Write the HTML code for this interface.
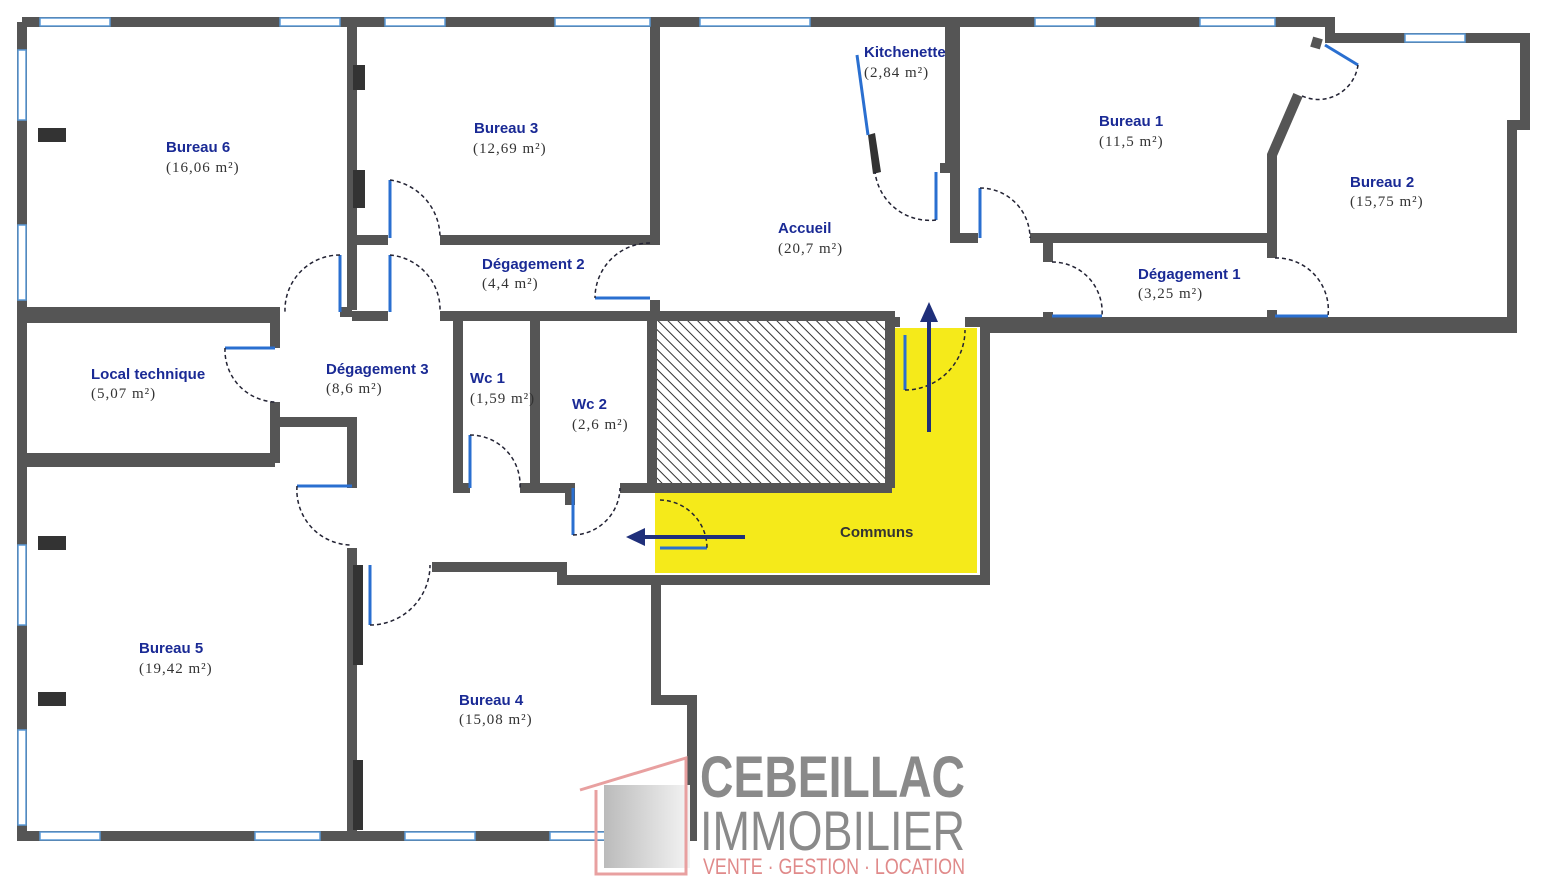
<!DOCTYPE html>
<html><head><meta charset="utf-8"><style>
html,body{margin:0;padding:0;background:#fff;width:1542px;height:876px;overflow:hidden}
svg{display:block}
.l{font-family:"Liberation Sans Narrow","Liberation Sans",sans-serif;font-weight:bold;fill:#1a2a95;font-size:15px}
.a{font-family:"Liberation Serif",serif;fill:#333;font-size:15px;letter-spacing:1px}
</style></head><body>
<svg width="1542" height="876" viewBox="0 0 1542 876" xmlns="http://www.w3.org/2000/svg">
<defs>
<pattern id="h" width="7" height="7" patternUnits="userSpaceOnUse" patternTransform="rotate(-45)">
<rect width="7" height="7" fill="#fff"/><line x1="0" y1="0" x2="0" y2="7" stroke="#333" stroke-width="2"/>
</pattern>
<linearGradient id="g" x1="0" y1="0" x2="1" y2="0"><stop offset="0" stop-color="#bbb"/><stop offset="1" stop-color="#f4f4f4"/></linearGradient>
</defs>
<!-- yellow communs -->
<polygon points="655,488 892,488 892,328 977,328 977,573 655,573" fill="#f5ea1a"/>
<rect x="657" y="320" width="232" height="164" fill="url(#h)"/>
<g fill="none" stroke="#555" stroke-width="10" stroke-linejoin="miter">
<!-- outer -->
<polyline points="22,22 1330,22 1330,38 1525,38 1525,125 1512,125 1512,328 985,328 985,580 656,580 656,700 692,700 692,836 22,836 22,22"/>
<!-- bureau6/3 divider -->
<line x1="352" y1="22" x2="352" y2="310"/>
<polyline points="22,312 280,312"/><line x1="340" y1="312" x2="352" y2="312"/>
<polyline points="352,240 388,240"/><polyline points="440,240 655,240 655,22"/>
<line x1="655" y1="300" x2="655" y2="320"/>
<polyline points="352,316 388,316"/><polyline points="440,316 890,316 890,488"/>
<!-- local tech -->
<polyline points="22,318 275,318 275,348"/><polyline points="275,402 275,458 22,458"/>
<polyline points="278,422 352,422 352,488"/>
<line x1="22" y1="462" x2="275" y2="462"/>
<line x1="352" y1="548" x2="352" y2="836"/>
<!-- WCs -->
<polyline points="458,316 458,488 470,488"/><polyline points="520,488 535,488 535,316"/>
<polyline points="535,488 570,488 570,505"/><polyline points="620,488 652,488 652,316"/>
<polyline points="655,488 892,488"/>
<!-- bureau 4 top -->
<polyline points="432,567 562,567 562,580 656,580"/>
<!-- kitchen / bureau1 -->
<line x1="950" y1="22" x2="950" y2="165"/><line x1="940" y1="168" x2="950" y2="168"/>
<polyline points="955,22 955,238 978,238"/><polyline points="1030,238 1272,238 1272,155 1298,95"/>
<line x1="1318" y1="38" x2="1315" y2="48"/>
<polyline points="1048,240 1048,262"/><line x1="1048" y1="312" x2="1048" y2="322"/>
<line x1="1272" y1="238" x2="1272" y2="258"/><line x1="1272" y1="310" x2="1272" y2="322"/>
<line x1="965" y1="322" x2="1512" y2="322"/>
<line x1="890" y1="322" x2="900" y2="322"/>
</g>
<!-- windows (white gaps on outer walls) -->
<g fill="#fff" stroke="#5a9ad8" stroke-width="1.5">
<rect x="40" y="18" width="70" height="8"/><rect x="280" y="18" width="60" height="8"/>
<rect x="385" y="18" width="60" height="8"/><rect x="555" y="18" width="95" height="8"/>
<rect x="700" y="18" width="110" height="8"/><rect x="1035" y="18" width="60" height="8"/>
<rect x="1200" y="18" width="75" height="8"/><rect x="1405" y="34" width="60" height="8"/>
<rect x="18" y="50" width="8" height="70"/><rect x="18" y="225" width="8" height="75"/>
<rect x="18" y="545" width="8" height="80"/><rect x="18" y="730" width="8" height="95"/>
<rect x="40" y="832" width="60" height="8"/><rect x="255" y="832" width="65" height="8"/>
<rect x="405" y="832" width="70" height="8"/><rect x="550" y="832" width="65" height="8"/>
</g>
<!-- pillars -->
<g fill="#333"><rect x="38" y="128" width="28" height="14"/><rect x="38" y="536" width="28" height="14"/><rect x="38" y="692" width="28" height="14"/>
<rect x="353" y="65" width="12" height="25"/><rect x="353" y="170" width="12" height="38"/><rect x="353" y="565" width="10" height="100"/><rect x="353" y="760" width="10" height="70"/>
<polygon points="868,135 875,133 881,172 873,174"/></g>
<!-- door leaves and arcs -->
<g stroke="#2a6fd0" stroke-width="3" fill="none">
<line x1="390" y1="180" x2="390" y2="238"/><line x1="390" y1="255" x2="390" y2="312"/><line x1="340" y1="255" x2="340" y2="312"/>
<line x1="595" y1="298" x2="650" y2="298"/><line x1="225" y1="348" x2="275" y2="348"/><line x1="297" y1="486" x2="352" y2="486"/>
<line x1="470" y1="435" x2="470" y2="488"/><line x1="573" y1="488" x2="573" y2="535"/><line x1="370" y1="565" x2="370" y2="625"/>
<line x1="980" y1="188" x2="980" y2="238"/><line x1="936" y1="172" x2="936" y2="220"/><line x1="1052" y1="316" x2="1102" y2="316"/><line x1="1275" y1="316" x2="1328" y2="316"/>
<line x1="1325" y1="45" x2="1358" y2="65"/><line x1="857" y1="55" x2="868" y2="135"/>
<line x1="905" y1="335" x2="905" y2="390"/><line x1="660" y1="548" x2="707" y2="548"/>
</g>
<g stroke="#223" stroke-width="1.5" fill="none" stroke-dasharray="4,3">
<path d="M390,180 A58,58 0 0 1 440,238"/><path d="M390,255 A55,55 0 0 1 440,312"/><path d="M340,255 A55,55 0 0 0 285,312"/>
<path d="M650,243 A55,55 0 0 0 595,298"/><path d="M225,348 A52,52 0 0 0 275,402"/><path d="M297,486 A55,55 0 0 0 352,545"/>
<path d="M470,435 A50,50 0 0 1 520,488"/><path d="M573,535 A48,48 0 0 0 620,488"/><path d="M370,625 A60,60 0 0 0 430,565"/>
<path d="M980,188 A50,50 0 0 1 1030,238"/><path d="M936,220 A55,55 0 0 1 875,172"/><path d="M1052,262 A50,50 0 0 1 1102,316"/><path d="M1275,258 A52,52 0 0 1 1328,316"/>
<path d="M1358,65 A40,40 0 0 1 1300,95"/><path d="M905,390 A60,60 0 0 0 965,330"/><path d="M660,500 A48,48 0 0 1 707,548"/>
</g>
<!-- arrows -->
<g stroke="#1f2f7a" stroke-width="4" fill="#1f2f7a">
<line x1="929" y1="432" x2="929" y2="318"/><polygon points="920,322 938,322 929,302" stroke="none"/>
<line x1="745" y1="537" x2="640" y2="537"/><polygon points="645,528 645,546 626,537" stroke="none"/>
</g>
<!-- labels -->
<g class="l">
<text x="166" y="152">Bureau 6</text><text x="474" y="133">Bureau 3</text><text x="482" y="269">Dégagement 2</text>
<text x="778" y="233">Accueil</text><text x="864" y="57">Kitchenette</text><text x="1099" y="126">Bureau 1</text>
<text x="1350" y="187">Bureau 2</text><text x="1138" y="279">Dégagement 1</text><text x="91" y="379">Local technique</text>
<text x="326" y="374">Dégagement 3</text><text x="470" y="383">Wc 1</text><text x="572" y="409">Wc 2</text>
<text x="840" y="537" style="fill:#333">Communs</text><text x="139" y="653">Bureau 5</text><text x="459" y="705">Bureau 4</text>
</g>
<g class="a">
<text x="166" y="172">(16,06 m²)</text><text x="473" y="153">(12,69 m²)</text><text x="482" y="288">(4,4 m²)</text>
<text x="778" y="253">(20,7 m²)</text><text x="864" y="77">(2,84 m²)</text><text x="1099" y="146">(11,5 m²)</text>
<text x="1350" y="206">(15,75 m²)</text><text x="1138" y="298">(3,25 m²)</text><text x="91" y="398">(5,07 m²)</text>
<text x="326" y="393">(8,6 m²)</text><text x="470" y="403">(1,59 m²)</text><text x="572" y="429">(2,6 m²)</text>
<text x="139" y="673">(19,42 m²)</text><text x="459" y="724">(15,08 m²)</text>
</g>
<!-- logo -->
<polygon points="604,785 690,785 690,868 604,868" fill="url(#g)"/>
<polyline points="580,790 686,758 686,874 596,874 596,790" fill="none" stroke="#e8a0a0" stroke-width="3"/>
<text x="700" y="797" font-family="Liberation Sans Narrow,Liberation Sans,sans-serif" font-size="58" fill="#8a8a8a" font-weight="bold" textLength="265" lengthAdjust="spacingAndGlyphs">CEBEILLAC</text>
<text x="700" y="850" font-family="Liberation Sans Narrow,Liberation Sans,sans-serif" font-size="56" fill="#8a8a8a" textLength="265" lengthAdjust="spacingAndGlyphs">IMMOBILIER</text>
<text x="703" y="874" font-family="Liberation Sans Narrow,Liberation Sans,sans-serif" font-size="22" fill="#e08a8a" textLength="262" lengthAdjust="spacingAndGlyphs">VENTE · GESTION · LOCATION</text>
</svg>
</body></html>
